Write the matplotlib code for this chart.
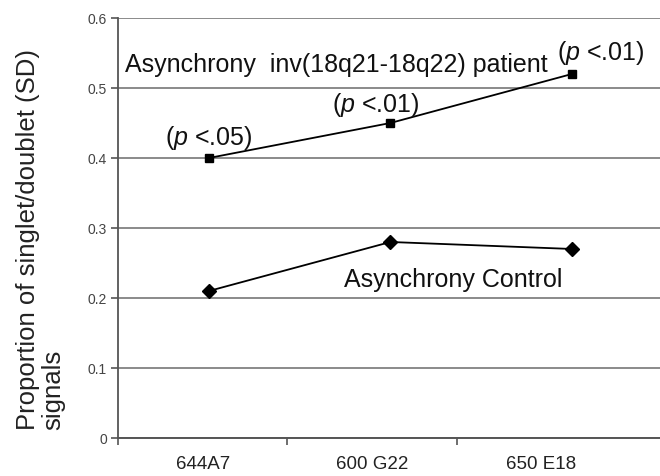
import matplotlib
matplotlib.use('Agg')
import matplotlib.pyplot as plt

plt.rcParams['font.family'] = ['Liberation Sans', 'DejaVu Sans']
plt.rcParams['mathtext.fontset'] = 'custom'
plt.rcParams['mathtext.rm'] = 'Liberation Sans'
plt.rcParams['mathtext.it'] = 'Liberation Sans:italic'

# data
probes = ['644A7', '600 G22', '650 E18']
patient = [0.40, 0.45, 0.52]
control = [0.21, 0.28, 0.27]
p_labels = ['($p$ <.05)', '($p$ <.01)', '($p$ <.01)']

fig = plt.figure(figsize=(6.6, 4.77), dpi=100)
ax = fig.add_axes([0.1788, 0.0797, 0.8212, 0.8805])

# category axis (labels + separator ticks)
ax.set_xlim(-0.5, 2.70)
ax.set_ylim(0, 0.6)
ax.set_xticks(range(len(probes)))
ax.set_xticklabels(probes, fontsize=13.5, color='#222222')
ax.tick_params(axis='x', which='major', length=0, pad=12)
ax.set_xticks([-0.5, 0.5, 1.5], minor=True)
ax.tick_params(axis='x', which='minor', length=5, width=1.2, color='#555555', direction='out')
ax.set_yticks([0, 0.1, 0.2, 0.3, 0.4, 0.5, 0.6])
ax.set_yticklabels(['0', '0.1', '0.2', '0.3', '0.4', '0.5', '0.6'], fontsize=10, color='#444444')
ax.tick_params(axis='y', length=5, width=1.2, color='#555555', direction='out', pad=3)
ax.yaxis.grid(True, color='#8a8a8a', linewidth=1.4)
ax.set_axisbelow(True)
for s in ['top', 'right']:
    ax.spines[s].set_visible(False)
ax.spines['left'].set_color('#555555')
ax.spines['left'].set_linewidth(1.3)
ax.spines['bottom'].set_color('#555555')
ax.spines['bottom'].set_linewidth(1.4)

# data axis, plotted points sit a bit wider than the category labels
ax2 = ax.twiny()
ax2.set_xlim(-0.501, 2.485)
ax2.set_ylim(0, 0.6)
ax2.set_xticks([])
for s in ax2.spines.values():
    s.set_visible(False)

x = range(len(probes))
ax2.plot(x, patient, color='black', linewidth=1.3, marker='s', markersize=6, clip_on=False)
ax2.plot(x, control, color='black', linewidth=1.3, marker='D', markersize=7.5, clip_on=False)

ax2.text(-0.46, 0.534, 'Asynchrony  inv(18q21-18q22) patient', fontsize=18,
         ha='left', va='center', color='#111111')
ax2.text(0.744, 0.227, 'Asynchrony Control', fontsize=18, ha='left', va='center',
         color='#111111')

p_pos = [(0.0, 0.43), (0.92, 0.477), (2.16, 0.551)]
for (px, py), lab in zip(p_pos, p_labels):
    ax2.text(px, py, lab, fontsize=18, ha='center', va='center', color='#111111')

fig.text(0.024, 0.0985, 'Proportion of singlet/doublet (SD)\nsignals', rotation=90,
         fontsize=18.5, ha='left', va='bottom', multialignment='left', linespacing=1.1,
         color='#222222')

fig.savefig('out.png', dpi=100)
